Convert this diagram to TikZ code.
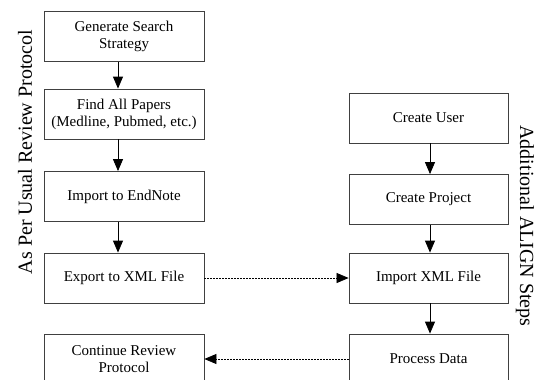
\documentclass[tikz,border=0pt]{standalone}
\usepackage{fontspec}
\setmainfont{Liberation Serif}
\usetikzlibrary{arrows.meta}
\tikzset{
  box/.style={draw=black!75, line width=0.8pt, minimum width=160pt, minimum height=50pt,
    inner sep=0pt, align=center, font=\fontsize{15}{17}\selectfont},
  flow/.style={draw=black, line width=0.8pt, -{Triangle[length=12pt,width=10pt]}},
  dots/.style={draw=black, line width=0.7pt, dash pattern=on 1.6pt off 1.4pt, -{Triangle[length=12pt,width=10pt]}},
  side/.style={font=\fontsize{20}{22}\selectfont, inner sep=0pt}
}
\begin{document}
\begin{tikzpicture}[x=1pt,y=-1pt]
\fill[white] (0,0) rectangle (536,380);
\useasboundingbox (0,0) rectangle (536,380);
\clip (0,0) rectangle (536,380);
\node[box] (gen) at (124,36.5) {Generate Search\\Strategy};
\node[box] (find) at (124,114) {Find All Papers\\(Medline, Pubmed, etc.)};
\node[box] (imp) at (124,196.5) {Import to EndNote};
\node[box] (exp) at (124,278) {Export to XML File};
\node[box] (cont) at (124,359) {Continue Review\\Protocol};
\node[box, minimum width=159pt] (user) at (428.5,118) {Create User};
\node[box, minimum width=159pt] (proj) at (428.5,199.5) {Create Project};
\node[box, minimum width=159pt] (ixml) at (428.5,278) {Import XML File};
\node[box, minimum width=159pt] (proc) at (428.5,359) {Process Data};
\node[side, rotate=90] (lbl) at (25,152) {As Per Usual Review Protocol};
\node[side, rotate=-90] (rbl) at (525,226) {Additional ALIGN Steps};
\draw[flow] ([xshift=-6pt]gen.south) -- ([xshift=-6pt]find.north);
\draw[flow] ([xshift=-6pt]find.south) -- ([xshift=-6pt]imp.north);
\draw[flow] ([xshift=-6pt]imp.south) -- ([xshift=-6pt]exp.north);
\draw[flow] ([xshift=1.5pt]user.south) -- ([xshift=1.5pt]proj.north);
\draw[flow] ([xshift=1.5pt]proj.south) -- ([xshift=1.5pt]ixml.north);
\draw[flow] ([xshift=1.5pt]ixml.south) -- ([xshift=1.5pt]proc.north);
\draw[dots] (exp.east) -- (ixml.west);
\draw[dots] (proc.west) -- (cont.east);
\end{tikzpicture}
\end{document}
